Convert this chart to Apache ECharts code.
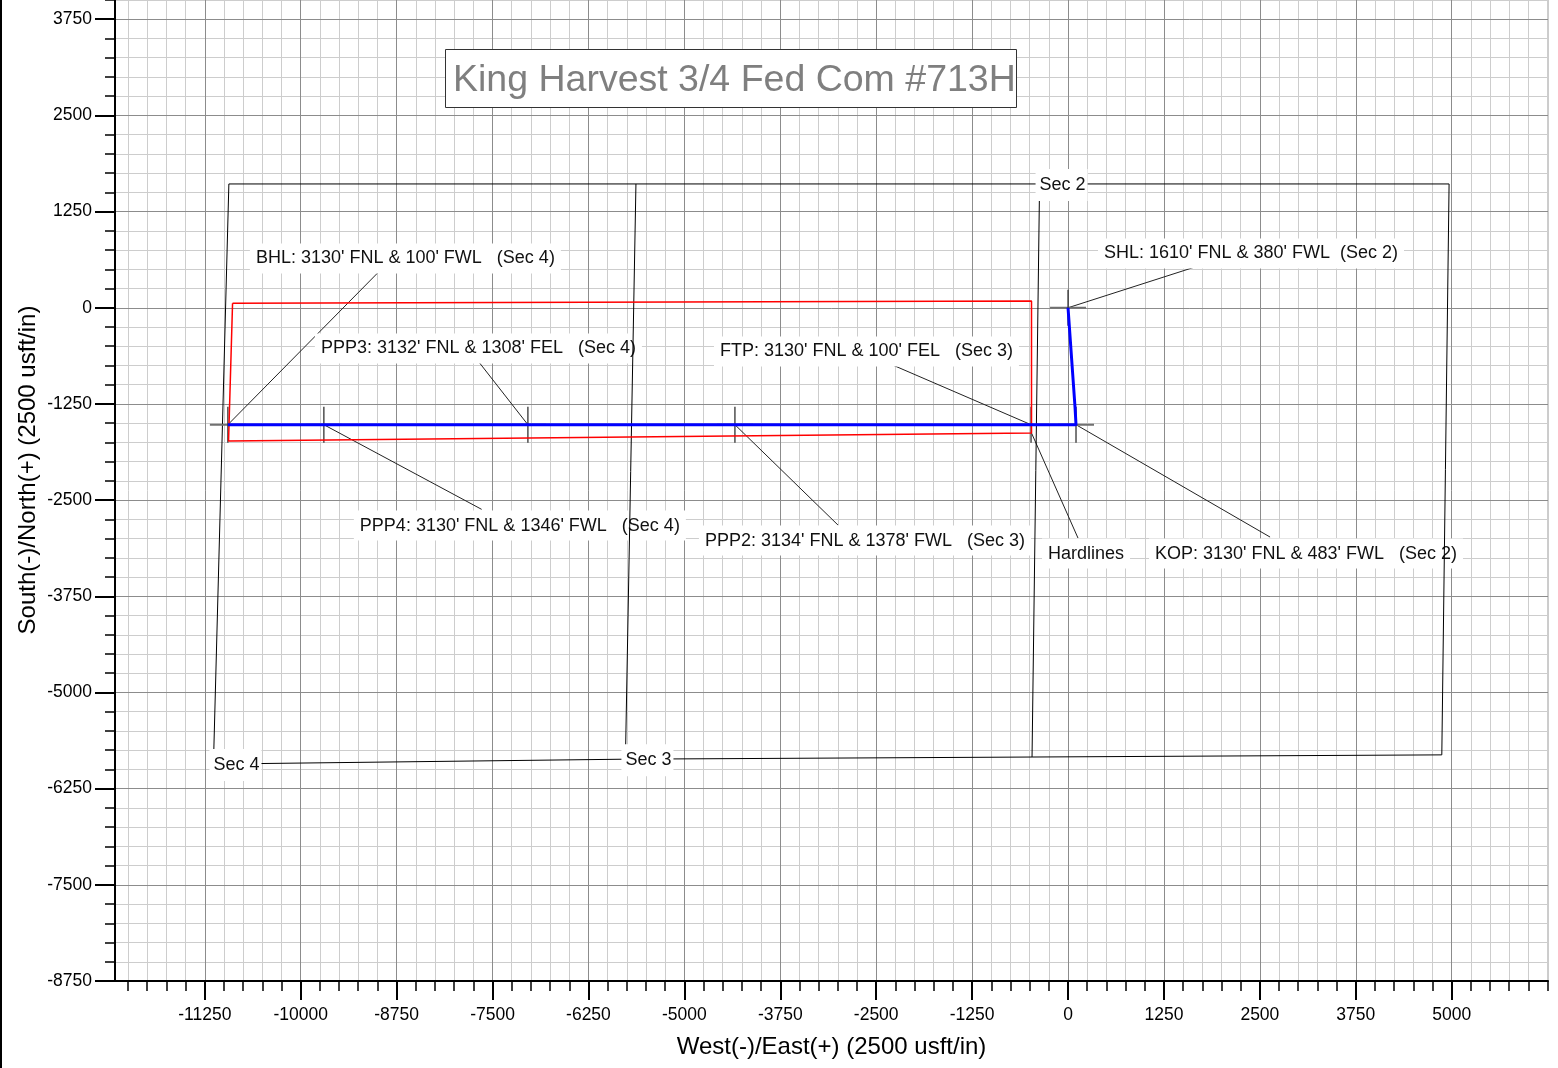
<!DOCTYPE html>
<html>
<head>
<meta charset="utf-8">
<title>King Harvest 3/4 Fed Com #713H</title>
<script src="https://cdn.jsdelivr.net/npm/echarts@6/dist/echarts.min.js"></script>
<style>
  html, body { margin: 0; padding: 0; background: #fff; }
  #chart { width: 1558px; height: 1068px; }
</style>
</head>
<body>
<div id="chart"></div>
<script>
// Plan view: West(-)/East(+) vs South(-)/North(+), usft, relative to SHL.

// Axis extents and tick values
const X_MIN = -12420, X_MAX = 6255;
const Y_MIN = -8750, Y_MAX = 4000;
const xTickLabels = [-11250, -10000, -8750, -7500, -6250, -5000, -3750, -2500, -1250, 0, 1250, 2500, 3750, 5000];
const yTickLabels = [-8750, -7500, -6250, -5000, -3750, -2500, -1250, 0, 1250, 2500, 3750];
const MINOR_STEP = 250;

// Well plan (E/W, N/S)
const wellPlan = [[0, 0], [91, -1290], [104, -1520], [-482, -1520], [-4341, -1520], [-7039, -1520], [-9698, -1520], [-10949, -1520]];

// Survey stations
const stationNames = ['SHL', 'KOP', 'FTP', 'PPP2', 'PPP3', 'PPP4', 'BHL'];
const stationE = [0, 104, -482, -4341, -7039, -9698, -10949];
const stationN = [0, -1520, -1520, -1520, -1520, -1520, -1520];

// Hardlines (closed polygon)
const hardlines = [[-10888, 58], [-476, 88], [-476, -1628], [-10940, -1732], [-10888, 58]];

// Section lines
const secTop = [[-10936, 1609], [4966, 1609]];
const secBottom = [[-11137, -5931], [-5768, -5867], [-469, -5839], [4871, -5811]];
const sec4West = [[-10936, 1609], [-11137, -5931]];
const sec2East = [[4966, 1609], [4871, -5811]];
const sec3West = [[-5631, 1609], [-5768, -5867]];
const sec2West = [[-371, 1609], [-469, -5839]];

// Section names and the corner each one is tagged at
const sectionNames = ['Sec 2', 'Sec 3', 'Sec 4'];
const sectionCorners = [[-371, 1609], [-5768, -5867], [-11137, -5931]];

// Callout texts and the point each one refers to
const calloutText = [
  "BHL: 3130' FNL & 100' FWL   (Sec 4)",
  "PPP3: 3132' FNL & 1308' FEL   (Sec 4)",
  "PPP4: 3130' FNL & 1346' FWL   (Sec 4)",
  "PPP2: 3134' FNL & 1378' FWL   (Sec 3)",
  "FTP: 3130' FNL & 100' FEL   (Sec 3)",
  "Hardlines",
  "KOP: 3130' FNL & 483' FWL   (Sec 2)",
  "SHL: 1610' FNL & 380' FWL  (Sec 2)"
];
const calloutPoint = [[-10949, -1520], [-7039, -1520], [-9698, -1520], [-4341, -1520], [-482, -1520], [-476, -1628], [104, -1520], [0, 0]];

// Callout placement (leader end and text anchor, plan units)
const calloutLayout = [
  { leaderTo: [-8968, 482], textAt: [-10584, 660] },
  { leaderTo: [-7678, -705], textAt: [-9737, -510] },
  { leaderTo: [-7642, -2620], textAt: [-9229, -2811] },
  { leaderTo: [-2998, -2824], textAt: [-4732, -3006] },
  { leaderTo: [-2346, -718], textAt: [-4536, -549] },
  { leaderTo: [130, -2993], textAt: [-261, -3175] },
  { leaderTo: [2633, -2980], textAt: [1134, -3175] },
  { leaderTo: [1655, 530], textAt: [469, 725] }
];

function stepsBetween(a, b, s) {
  const out = [];
  for (let v = Math.ceil(a / s) * s; v <= b; v += s) out.push(v);
  return out;
}
const xMinorTicks = stepsBetween(X_MIN, X_MAX, MINOR_STEP);
const yMinorTicks = stepsBetween(Y_MIN, Y_MAX, MINOR_STEP);

const FONT = '"Liberation Sans", Arial, sans-serif';
const plainNumber = function (v) { return String(v); };

function sectionSeries(data) {
  return {
    type: 'line', data: data, z: 4, silent: true, showSymbol: false, symbol: 'none',
    lineStyle: { color: '#000', width: 1 }
  };
}

const chart = echarts.init(document.getElementById('chart'), null, { renderer: 'canvas' });

const option = {
  animation: false,
  backgroundColor: '#fff',
  grid: { left: 115, right: 10, top: 0, bottom: 87, show: true, borderColor: '#9a9a9a', borderWidth: 1, containLabel: false, outerBoundsMode: 'none' },
  xAxis: [
    {
      type: 'value', min: X_MIN, max: X_MAX, position: 'bottom', z: 3,
      axisLine: { onZero: false, lineStyle: { color: '#000', width: 2 } },
      axisTick: { customValues: xTickLabels, length: 19, lineStyle: { color: '#000', width: 2 } },
      axisLabel: { customValues: xTickLabels, formatter: plainNumber, margin: 25, color: '#000', fontSize: 17.5, fontFamily: FONT },
      splitLine: { show: true, lineStyle: { color: '#8c8c8c', width: 1 } },
      name: 'West(-)/East(+) (2500 usft/in)', nameLocation: 'middle', nameGap: 54,
      nameTextStyle: { fontSize: 24, color: '#000', fontFamily: FONT }
    },
    {
      type: 'value', min: X_MIN, max: X_MAX, position: 'bottom', z: 1,
      axisLine: { show: false, onZero: false },
      axisTick: { customValues: xMinorTicks, length: 10, lineStyle: { color: '#000', width: 1.5 } },
      axisLabel: { show: false },
      splitLine: { show: true, lineStyle: { color: '#cdcdcd', width: 1 } }
    }
  ],
  yAxis: [
    {
      type: 'value', min: Y_MIN, max: Y_MAX, position: 'left', z: 3,
      axisLine: { onZero: false, lineStyle: { color: '#000', width: 2 } },
      axisTick: { customValues: yTickLabels, length: 20, lineStyle: { color: '#000', width: 2 } },
      axisLabel: { customValues: yTickLabels, formatter: plainNumber, margin: 23, color: '#000', fontSize: 17.5, fontFamily: FONT },
      splitLine: { show: true, lineStyle: { color: '#8c8c8c', width: 1 } }
    },
    {
      type: 'value', min: Y_MIN, max: Y_MAX, position: 'left', z: 1,
      axisLine: { show: false, onZero: false },
      axisTick: { customValues: yMinorTicks, length: 10, lineStyle: { color: '#000', width: 1.5 } },
      axisLabel: { show: false },
      splitLine: { show: true, lineStyle: { color: '#cdcdcd', width: 1 } }
    }
  ],
  series: [
    // callouts: leader line + boxed text
    {
      type: 'custom', z: 3, silent: true, clip: false,
      data: calloutPoint,
      renderItem: function (params, api) {
        const i = params.dataIndex;
        const lay = calloutLayout[i];
        const p = api.coord([api.value(0), api.value(1)]);
        const e = api.coord(lay.leaderTo);
        const t = api.coord(lay.textAt);
        return {
          type: 'group',
          children: [
            { type: 'line', shape: { x1: p[0], y1: p[1], x2: e[0], y2: e[1] }, style: { stroke: '#222', lineWidth: 1 } },
            {
              type: 'text', x: t[0] - 6, y: t[1] + 1.5,
              style: {
                text: calloutText[i], font: '18px ' + FONT, fill: '#111',
                backgroundColor: '#fff', padding: [6, 6, 6, 6],
                align: 'left', verticalAlign: 'middle'
              }
            }
          ]
        };
      }
    },
    sectionSeries(secTop),
    sectionSeries(secBottom),
    sectionSeries(sec4West),
    sectionSeries(sec2East),
    sectionSeries(sec3West),
    sectionSeries(sec2West),
    // section tags
    {
      type: 'custom', z: 5, silent: true, clip: false,
      data: sectionCorners,
      renderItem: function (params, api) {
        const p = api.coord([api.value(0), api.value(1)]);
        return {
          type: 'text', x: p[0] - 4, y: p[1] + 1,
          style: {
            text: sectionNames[params.dataIndex], font: '18px ' + FONT, fill: '#111',
            backgroundColor: '#fff', padding: [7, 2, 7, 4],
            align: 'left', verticalAlign: 'middle'
          }
        };
      }
    },
    // station crosses
    {
      type: 'custom', z: 5, silent: true, clip: false,
      data: stationE.map(function (e, i) { return [e, stationN[i]]; }),
      renderItem: function (params, api) {
        const p = api.coord([api.value(0), api.value(1)]);
        return {
          type: 'group',
          children: [
            { type: 'line', shape: { x1: p[0] - 18, y1: p[1], x2: p[0] + 18, y2: p[1] }, style: { stroke: '#707070', lineWidth: 2 } },
            { type: 'line', shape: { x1: p[0], y1: p[1] - 18, x2: p[0], y2: p[1] + 18 }, style: { stroke: '#333', lineWidth: 1.3 } }
          ]
        };
      }
    },
    {
      type: 'line', data: hardlines, z: 6, silent: true, showSymbol: false, symbol: 'none',
      lineStyle: { color: '#ff0000', width: 1.5 }
    },
    {
      type: 'line', data: wellPlan, z: 7, silent: true, showSymbol: false, symbol: 'none',
      lineStyle: { color: '#0000ff', width: 3 }
    }
  ],
  graphic: {
    elements: [
      { type: 'rect', x: 0, y: 0, shape: { x: 0, y: 0, width: 2, height: 1068 }, style: { fill: '#000' }, z: 50 },
      {
        type: 'text', x: 28, y: 470, rotation: Math.PI / 2, z: 50,
        style: { text: 'South(-)/North(+) (2500 usft/in)', font: '24px ' + FONT, fill: '#000', align: 'center', verticalAlign: 'middle' }
      },
      { type: 'rect', x: 0, y: 0, shape: { x: 445.5, y: 49.5, width: 571, height: 58 }, style: { fill: '#ffffff', stroke: '#333', lineWidth: 1 }, z: 50 },
      { type: 'text', x: 453, y: 81, z: 51, style: { text: 'King Harvest 3/4 Fed Com #713H', font: '37.5px ' + FONT, fill: '#7f7f7f', align: 'left', verticalAlign: 'middle' } }
    ]
  }
};

chart.setOption(option);
</script>
</body>
</html>
